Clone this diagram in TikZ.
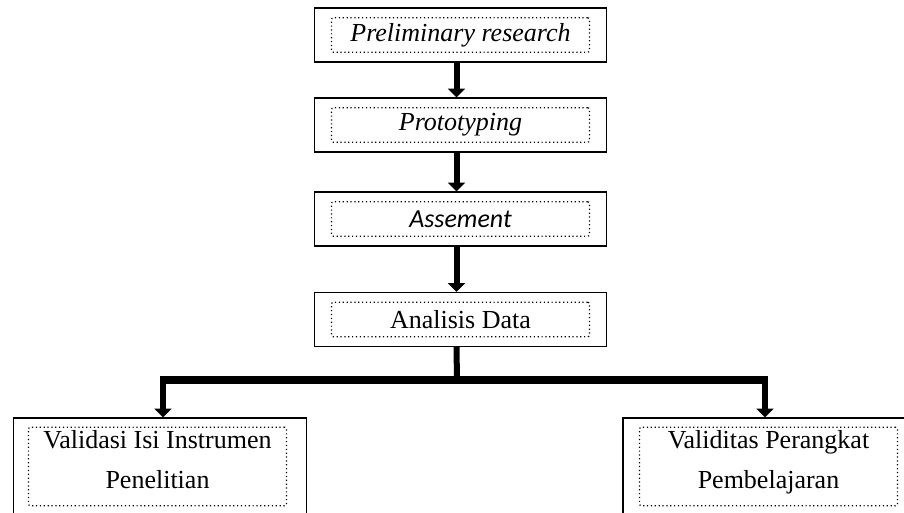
\documentclass[tikz,border=0pt]{standalone}
\usepackage{fontspec}
\setmainfont{Liberation Serif}
\newfontfamily\calibrifont{Carlito}
\usetikzlibrary{arrows.meta, positioning}

\begin{document}
\begin{tikzpicture}[x=0.75pt, y=-0.75pt, >={Triangle[width=12.5pt, length=6.5pt]},
    outerbox/.style={draw, line width=0.9pt, minimum width=219.5pt, minimum height=40.5pt, inner sep=0pt},
    innerbox/.style={draw, dotted, line width=0.9pt, rounded corners=1.5pt, minimum width=193.5pt, minimum height=26pt, inner sep=0pt, font=\fontsize{19.5}{22}\selectfont},
    boxtext/.style={anchor=north, align=center, inner sep=0pt, font=\fontsize{19.5}{30}\selectfont},
    flow/.style={->, line width=4.5pt}]
    \useasboundingbox (0,0) rectangle (904,512);
    % main chain
    \node[outerbox] (prelim) at (460.5,35) {};
    \node[innerbox] (prelimIn) at (prelim) {\textit{Preliminary research}};
    \node[outerbox] (proto) at (460.5,125) {};
    \node[innerbox] (protoIn) at (proto) {\textit{Prototyping}};
    \node[outerbox] (assess) at (460.5,219) {};
    \node[innerbox] (assessIn) at (assess) {\calibrifont\itshape Assement};
    \node[outerbox] (analisis) at (460.5,319.5) {};
    \node[innerbox] (analisisIn) at (analisis) {Analisis Data};
    % two outcomes
    \node[outerbox, minimum height=78pt] (valIsi) at (160,470) {};
    \node[innerbox, minimum height=59pt] (valIsiIn) at (157.5,466.5) {};
    \node[boxtext] (valIsiText) at (157.5,430) {Validasi Isi Instrumen\\Penelitian};
    \node[outerbox, minimum height=78pt, minimum width=228pt] (valPer) at (775,470) {};
    \node[innerbox, minimum height=59pt] (valPerIn) at (768.5,466.5) {};
    \node[boxtext] (valPerText) at (768.5,430) {Validitas Perangkat\\Pembelajaran};
    \draw[flow] ([xshift=-3pt]prelim.south) -- ([xshift=-3pt]proto.north);
    \draw[flow] ([xshift=-3pt]proto.south) -- ([xshift=-3pt]assess.north);
    \draw[flow] ([xshift=-3pt]assess.south) -- ([xshift=-3pt]analisis.north);
    \coordinate (split) at (457,380);
    \coordinate (leftDrop) at (163,380);
    \coordinate (rightDrop) at (765,380);
    \draw[line width=4.5pt] ([xshift=-3pt]analisis.south) -- (split);
    \draw[line width=5.5pt] ([xshift=-2.25pt]leftDrop) -- ([xshift=2.25pt]rightDrop);
    \draw[flow] (leftDrop) -- (leftDrop |- valIsi.north);
    \draw[flow] (rightDrop) -- (rightDrop |- valPer.north);
\end{tikzpicture}
\end{document}
